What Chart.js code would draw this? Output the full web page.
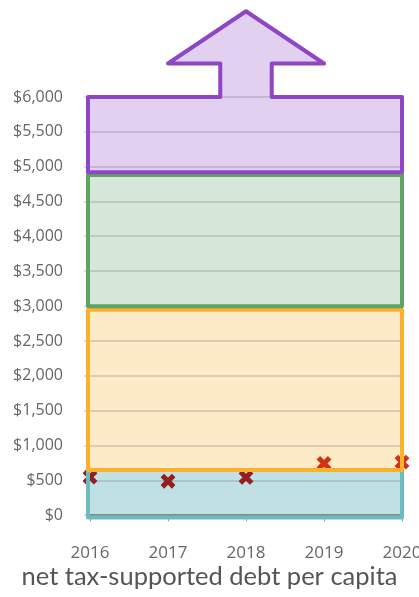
<!DOCTYPE html>
<html>
<head>
<meta charset="utf-8">
<script src="https://cdn.jsdelivr.net/npm/chart.js@4/dist/chart.umd.min.js"></script>
<style>
  html, body { margin: 0; padding: 0; background: #fff; }
  #wrap { width: 419px; height: 597px; position: relative; }
</style>
</head>
<body>
<div id="wrap"><canvas id="debtChart"></canvas></div>
<script>
// data
const years = [2016, 2017, 2018, 2019, 2020];
const debtPerCapita = [550, 490, 545, 745, 765];
const yTicks = [0, 500, 1000, 1500, 2000, 2500, 3000, 3500, 4000, 4500, 5000, 5500, 6000];

// rating bands (low / high in $ per capita)
const bandLow = [-30, 650, 3000, 4920];
const bandHigh = [650, 2950, 4880, 6000];

// arrow on top of the purple band, in data units
const arrowShaft = [2017.67, 2018.33];
const arrowHead = [2017.0, 2019.0];
const arrowBase = 6480;
const arrowTip = 7230;

const bandFill = ['#bfe1e3', '#fdebc8', '#d5e7d8', '#e1d0f0'];
const bandLine = ['#6bbcc1', '#fbb12c', '#5aa564', '#8e46c6'];
const markerColors = debtPerCapita.map(v => v > 650 ? '#d1320f' : '#931d1f');

function bandRect(chart, i) {
    const x = chart.scales.x, y = chart.scales.y;
    const left = x.getPixelForValue(years[0]) - 2;
    const right = x.getPixelForValue(years[years.length - 1]);
    const top = y.getPixelForValue(bandHigh[i]);
    const bottom = y.getPixelForValue(bandLow[i]);
    return { left, right, top, bottom };
}

function arrowPath(ctx, chart) {
    const x = chart.scales.x, y = chart.scales.y;
    const r = bandRect(chart, 3);
    const top = y.getPixelForValue(bandHigh[3]);
    ctx.beginPath();
    ctx.moveTo(r.left, r.bottom);
    ctx.lineTo(r.left, top);
    ctx.lineTo(x.getPixelForValue(arrowShaft[0]), top);
    ctx.lineTo(x.getPixelForValue(arrowShaft[0]), y.getPixelForValue(arrowBase));
    ctx.lineTo(x.getPixelForValue(arrowHead[0]), y.getPixelForValue(arrowBase));
    ctx.lineTo(x.getPixelForValue(2018), y.getPixelForValue(arrowTip));
    ctx.lineTo(x.getPixelForValue(arrowHead[1]), y.getPixelForValue(arrowBase));
    ctx.lineTo(x.getPixelForValue(arrowShaft[1]), y.getPixelForValue(arrowBase));
    ctx.lineTo(x.getPixelForValue(arrowShaft[1]), top);
    ctx.lineTo(r.right, top);
    ctx.lineTo(r.right, r.bottom);
    ctx.closePath();
}

// fills go under the grid, outlines go over the markers
const bandsPlugin = {
    id: 'bands',
    beforeDraw(chart) {
        const ctx = chart.ctx;
        ctx.save();
        for (let i = 0; i < bandLow.length; i++) {
            ctx.fillStyle = bandFill[i];
            if (i === 3) {
                arrowPath(ctx, chart);
                ctx.fill();
            } else {
                const r = bandRect(chart, i);
                ctx.fillRect(r.left, r.top, r.right - r.left, r.bottom - r.top);
            }
        }
        ctx.restore();
    },
    afterDatasetsDraw(chart) {
        const ctx = chart.ctx;
        ctx.save();
        ctx.lineWidth = 4;
        ctx.lineJoin = 'round';
        for (let i = 0; i < bandLow.length; i++) {
            ctx.strokeStyle = bandLine[i];
            if (i === 3) {
                arrowPath(ctx, chart);
            } else {
                const r = bandRect(chart, i);
                ctx.beginPath();
                ctx.rect(r.left, r.top, r.right - r.left, r.bottom - r.top);
            }
            ctx.stroke();
        }
        ctx.restore();
    }
};

new Chart(document.getElementById('debtChart').getContext('2d'), {
    type: 'scatter',
    data: {
        datasets: [{
            label: 'net tax-supported debt per capita',
            data: years.map((yr, i) => ({ x: yr, y: debtPerCapita[i] })),
            pointStyle: 'crossRot',
            pointRadius: 8,
            pointHoverRadius: 8,
            pointBorderWidth: 5,
            pointBorderColor: markerColors,
            pointBackgroundColor: markerColors,
            showLine: false,
            clip: false
        }]
    },
    options: {
        responsive: true,
        maintainAspectRatio: false,
        animation: false,
        layout: { padding: { top: 97, left: 0, right: 0, bottom: 0 } },
        plugins: {
            legend: { display: false },
            tooltip: { enabled: false },
            title: {
                display: true,
                position: 'bottom',
                text: 'net tax-supported debt per capita',
                color: '#555',
                font: { family: 'Lato', size: 25.5, weight: 'normal' },
                padding: { top: 0, bottom: 5 }
            }
        },
        scales: {
            x: {
                type: 'linear',
                min: 2016,
                max: 2020,
                afterBuildTicks: axis => { axis.ticks = years.map(v => ({ value: v })); },
                // keep room on the right for the 2020 label
                afterFit: axis => { axis.paddingLeft = 0; axis.paddingRight = 17; axis.height = 46; },
                ticks: {
                    callback: v => String(v),
                    color: '#666',
                    padding: 22,
                    font: { family: 'Open Sans', size: 17 },
                    maxRotation: 0
                },
                grid: { drawOnChartArea: false, drawTicks: true, tickLength: 6, color: '#999' },
                border: { display: true, color: '#888', width: 2 }
            },
            y: {
                min: 0,
                max: 6000,
                afterBuildTicks: axis => { axis.ticks = yTicks.map(v => ({ value: v })); },
                afterFit: axis => { axis.width = 90; axis.paddingTop = 0; axis.paddingBottom = 0; },
                ticks: {
                    callback: v => '$' + v.toLocaleString('en-US'),
                    color: '#666',
                    padding: 21,
                    font: { family: 'Open Sans', size: 16 }
                },
                grid: { color: 'rgba(110, 90, 110, 0.22)', lineWidth: 2, tickLength: 6 },
                border: { display: false }
            }
        }
    },
    plugins: [bandsPlugin]
});
</script>
</body>
</html>
